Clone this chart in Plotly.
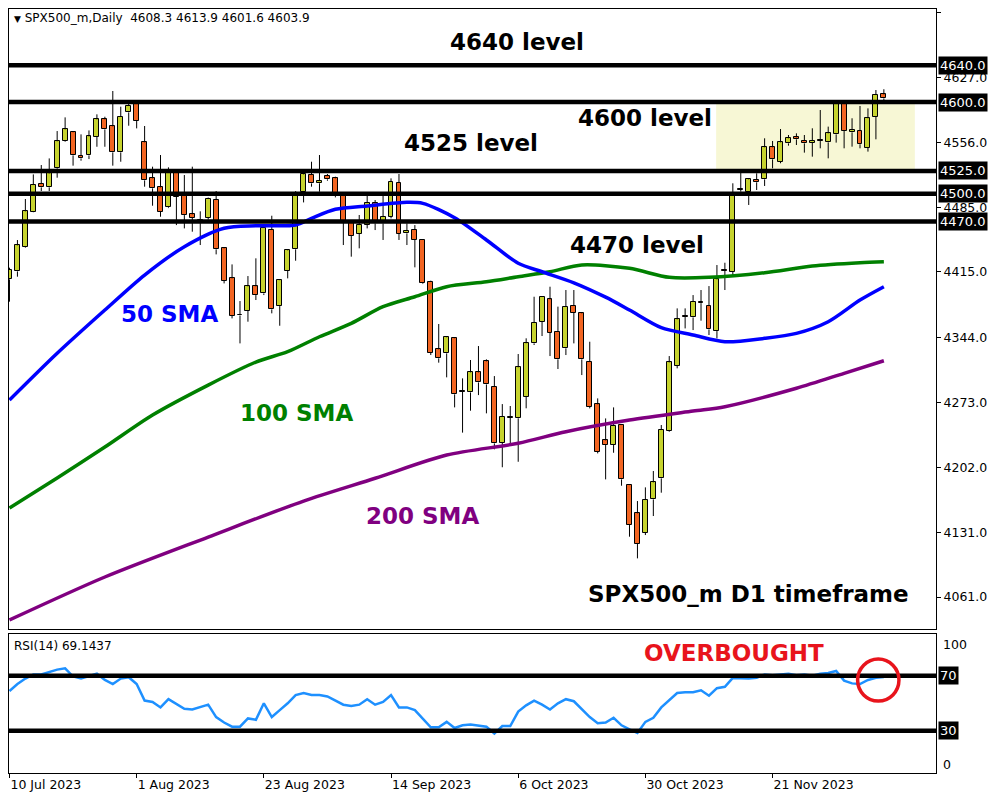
import plotly.graph_objects as go

# SPX500_m daily bars, bar 0 = 10 Jul 2023, last bar = current one
opens = [4406.9, 4415.6, 4442.1, 4480.6, 4510.7, 4507.1, 4527.8, 4557.9, 4567.0, 4541.2,
         4541.9, 4561.9, 4581.1, 4573.5, 4545.2, 4588.7, 4598.5, 4556.1, 4516.9, 4507.1,
         4485.4, 4523.4, 4500.5, 4477.7, 4472.0, 4474.0, 4493.3, 4440.6, 4408.0, 4368.1,
         4372.8, 4399.3, 4391.6, 4460.6, 4377.8, 4416.0, 4439.6, 4502.3, 4520.5, 4511.5,
         4519.4, 4516.9, 4497.6, 4468.6, 4456.3, 4466.1, 4490.4, 4467.9, 4475.1, 4512.2,
         4457.0, 4460.6, 4449.8, 4404.4, 4330.7, 4326.3, 4342.7, 4285.3, 4283.8, 4305.6,
         4317.6, 4290.0, 4228.9, 4256.2, 4255.6, 4279.1, 4337.2, 4360.8, 4385.1, 4349.9,
         4331.8, 4378.3, 4369.9, 4317.3, 4270.8, 4231.5, 4226.5, 4248.3, 4182.9, 4152.1,
         4131.0, 4167.3, 4190.2, 4242.1, 4312.9, 4367.0, 4365.5, 4381.5, 4377.8, 4350.6,
         4416.3, 4415.2, 4504.2, 4502.4, 4515.1, 4515.8, 4550.7, 4535.1, 4555.0, 4561.6,
         4557.9, 4555.8, 4558.0, 4556.1, 4564.8, 4598.6, 4567.0, 4568.8, 4550.3, 4584.1,
         4608.3]
highs = [4419.6, 4449.7, 4494.4, 4521.2, 4531.4, 4538.6, 4568.4, 4583.3, 4568.4, 4564.8,
         4569.1, 4586.6, 4584.0, 4612.0, 4594.9, 4598.5, 4600.5, 4573.9, 4529.6, 4542.3,
         4528.9, 4527.0, 4520.5, 4529.6, 4481.0, 4496.0, 4503.1, 4441.0, 4423.2, 4383.3,
         4410.5, 4429.8, 4466.0, 4476.2, 4406.0, 4439.0, 4503.0, 4525.9, 4535.0, 4542.3,
         4521.6, 4518.7, 4499.0, 4470.0, 4477.0, 4497.7, 4493.3, 4497.7, 4516.9, 4521.6,
         4467.9, 4466.0, 4450.0, 4405.5, 4358.3, 4345.2, 4343.0, 4299.1, 4319.1, 4334.3,
         4319.8, 4301.6, 4271.1, 4269.0, 4325.6, 4342.7, 4388.0, 4388.7, 4398.9, 4377.2,
         4395.3, 4395.3, 4370.6, 4339.0, 4277.3, 4255.5, 4267.5, 4249.0, 4183.5, 4165.5,
         4180.4, 4198.2, 4248.3, 4323.4, 4375.3, 4375.3, 4389.8, 4395.3, 4399.6, 4422.5,
         4425.0, 4511.5, 4523.1, 4516.9, 4522.4, 4560.5, 4557.6, 4570.6, 4564.1, 4565.9,
         4564.1, 4571.4, 4591.3, 4573.2, 4600.5, 4601.0, 4582.3, 4595.7, 4593.1, 4613.1,
         4613.9]
lows = [4382.6, 4409.8, 4441.4, 4480.0, 4503.1, 4503.1, 4517.6, 4556.8, 4530.7, 4536.1,
        4537.9, 4551.3, 4551.3, 4530.7, 4535.0, 4574.2, 4571.3, 4507.8, 4487.1, 4475.1,
        4484.5, 4466.0, 4462.4, 4458.8, 4444.3, 4472.0, 4434.1, 4402.5, 4364.4, 4337.2,
        4360.8, 4384.4, 4389.8, 4369.9, 4356.4, 4408.0, 4427.2, 4490.7, 4507.8, 4502.3,
        4514.3, 4496.2, 4444.3, 4431.6, 4440.7, 4462.4, 4460.6, 4449.8, 4473.3, 4449.8,
        4444.3, 4420.0, 4401.8, 4324.5, 4316.2, 4300.2, 4267.5, 4240.0, 4263.9, 4280.9,
        4261.0, 4221.8, 4202.3, 4226.5, 4208.3, 4266.5, 4335.4, 4345.2, 4323.4, 4309.3,
        4324.5, 4337.2, 4302.7, 4266.4, 4217.4, 4189.1, 4218.1, 4182.2, 4126.7, 4103.1,
        4128.5, 4149.2, 4174.6, 4241.0, 4310.0, 4353.5, 4351.7, 4361.9, 4346.3, 4342.6,
        4395.3, 4411.6, 4502.4, 4487.9, 4504.2, 4508.6, 4527.8, 4533.3, 4552.5, 4553.2,
        4544.9, 4540.5, 4549.6, 4538.7, 4555.8, 4549.6, 4551.4, 4549.6, 4546.0, 4559.4,
        4601.6]
closes = [4417.1, 4443.9, 4480.9, 4509.6, 4507.1, 4522.3, 4557.2, 4570.2, 4541.9, 4538.6,
          4562.6, 4581.1, 4570.2, 4545.2, 4584.0, 4596.0, 4579.3, 4514.7, 4506.0, 4480.6,
          4524.1, 4496.9, 4476.9, 4474.0, 4470.5, 4494.4, 4439.6, 4405.4, 4367.0, 4367.6,
          4399.3, 4389.8, 4463.1, 4374.2, 4405.8, 4438.5, 4498.7, 4521.2, 4511.4, 4514.0,
          4515.8, 4497.6, 4468.6, 4454.1, 4466.1, 4490.4, 4467.9, 4475.1, 4513.3, 4456.3,
          4459.9, 4449.8, 4402.6, 4327.1, 4320.9, 4343.8, 4281.7, 4284.5, 4305.6, 4294.7,
          4292.5, 4228.3, 4257.3, 4256.8, 4311.1, 4337.3, 4359.7, 4388.0, 4348.8, 4319.8,
          4377.2, 4370.6, 4319.8, 4268.3, 4219.2, 4226.5, 4247.2, 4189.1, 4139.4, 4118.7,
          4166.6, 4185.8, 4242.8, 4316.5, 4363.3, 4366.0, 4382.5, 4381.0, 4352.4, 4406.9,
          4416.0, 4498.7, 4504.5, 4515.8, 4512.6, 4550.7, 4537.6, 4556.1, 4560.5, 4559.4,
          4555.0, 4557.9, 4557.5, 4565.9, 4597.9, 4568.8, 4569.6, 4554.0, 4582.3, 4607.7,
          4603.9]

rsi14 = [59, 64, 68, 71, 71, 73, 74.5, 75.5, 69.5, 68,
         70, 71.5, 67, 64, 68, 69, 64, 52, 51, 47,
         53, 49.5, 46, 45.5, 47, 49, 40, 36, 33, 33,
         39, 38, 50, 40, 45, 50, 56, 57.5, 56, 56,
         55, 52, 49, 48, 49, 53, 49, 51, 56, 47,
         47, 45, 39, 32.5, 32.5, 36.5, 32, 34, 34.5, 34,
         33, 28, 33.5, 33.5, 44, 48.5, 52, 49, 45.5, 50,
         53, 51.5, 46, 40, 35.5, 36, 39.5, 34, 31, 28.5,
         36.5, 39.5, 47, 52.5, 57.5, 58, 58, 59.5, 55.5, 61,
         62, 68.5, 68, 68, 68.5, 71, 70.5, 71, 71.5, 70.5,
         71, 70, 71.5, 72, 73.5, 66.5, 64.5, 64, 67, 68.5, 69.1]
rsi_last = 69.1437

sma50_x = [0, 6, 12, 17, 22, 27, 31, 36, 38, 41, 45, 50, 52, 56, 60, 64, 67, 71, 75, 78,
           82, 86, 90, 95, 99, 103, 107, 110]
sma50 = [4275.5, 4326.4, 4373.5, 4411.6, 4442.4, 4462.5, 4465.3, 4466.1, 4473.4, 4483.2,
         4486.8, 4490.8, 4489.7, 4474.0, 4449.8, 4424.4, 4415.2, 4403.2, 4387.5, 4373.5,
         4354.3, 4346.3, 4339.0, 4342.7, 4348.1, 4360.8, 4384.4, 4398.9]
sma100_x = [0, 6, 12, 18, 25, 31, 35, 39, 43, 47, 51, 55, 60, 64, 68, 72, 78, 83, 88, 95,
            101, 107, 110]
sma100 = [4157.9, 4190.6, 4224.3, 4259.2, 4291.8, 4316.9, 4328.1, 4344.4, 4359.0, 4377.1,
          4388.0, 4398.9, 4404.3, 4409.8, 4415.2, 4422.5, 4418.9, 4409.1, 4409.1, 4414.1,
          4421.4, 4425.0, 4426.1]
sma200_x = [0, 12, 25, 37, 46, 55, 64, 70, 78, 86, 90, 99, 105, 110]
sma200 = [4036.0, 4082.8, 4126.3, 4165.5, 4190.3, 4215.6, 4228.4, 4241.0, 4253.7, 4263.5,
          4268.2, 4288.3, 4304.6, 4318.3]

levels = [4640, 4600, 4525, 4500, 4470]
rsi_levels = [70, 30]
price_ticks = [4698, 4627, 4556, 4485, 4415, 4344, 4273, 4202, 4131, 4061]
date_ticks = [0, 16, 32, 48, 64, 80, 96]
date_labels = ["10 Jul 2023", "1 Aug 2023", "23 Aug 2023", "14 Sep 2023",
               "6 Oct 2023", "30 Oct 2023", "21 Nov 2023"]

BULL = "#c6d32e"
BEAR = "#f26522"
FONT = "DejaVu Sans"

bars = list(range(len(opens)))

# wicks drawn in two pieces so they do not cross the bodies
wick_x, wick_y = [], []
for i, o, h, l, c in zip(bars, opens, highs, lows, closes):
    wick_x += [i, i, None, i, i, None]
    wick_y += [h, max(o, c), None, min(o, c), l, None]

body_base = [min(o, c) for o, c in zip(opens, closes)]
body_len = [max(abs(c - o), 0.8) for o, c in zip(opens, closes)]
body_col = [BULL if c >= o else BEAR for o, c in zip(opens, closes)]

fig = go.Figure()
fig.add_trace(go.Scatter(x=wick_x, y=wick_y, mode="lines",
                         line=dict(color="black", width=1), hoverinfo="skip"))
fig.add_trace(go.Bar(x=bars, y=body_len, base=body_base, width=0.62,
                     marker=dict(color=body_col, line=dict(color="black", width=1))))
for xs, ys, col in ((sma200_x, sma200, "#800080"), (sma100_x, sma100, "#008000"),
                    (sma50_x, sma50, "#0000ff")):
    fig.add_trace(go.Scatter(x=xs, y=ys, mode="lines",
                             line=dict(color=col, width=3.5, shape="spline", smoothing=0.8)))
fig.add_trace(go.Scatter(x=bars, y=rsi14, mode="lines", xaxis="x2", yaxis="y2",
                         line=dict(color="#1e90ff", width=2.5)))

axis_common = dict(showgrid=False, zeroline=False, showline=True, mirror=True,
                   linecolor="black", linewidth=1)
# the page puts the figure 8px in from the window corner, so it is drawn 992x792
fig.update_layout(
    width=992, height=792,
    margin=dict(l=1, r=64, t=1, b=27),
    paper_bgcolor="white", plot_bgcolor="white",
    showlegend=False,
    font=dict(family=FONT, size=12, color="black"),
    xaxis=dict(domain=[0, 1], range=[-0.06, 116.56], anchor="y",
               showticklabels=False, ticks="", **axis_common),
    yaxis=dict(domain=[0.1885, 1], range=[4026.2, 4701.3], side="right",
               tickvals=price_ticks, ticktext=[f"{v:.1f}" for v in price_ticks],
               ticks="outside", ticklen=4, tickcolor="black",
               tickfont=dict(size=12.5), **axis_common),
    xaxis2=dict(domain=[0, 1], matches="x", anchor="y2",
                tickvals=date_ticks, ticktext=date_labels,
                ticks="outside", ticklen=4, tickcolor="black",
                ticklabelposition="outside right", tickfont=dict(size=12.5), **axis_common),
    yaxis2=dict(domain=[0, 0.1819], range=[-0.7, 100.4], side="right",
                showticklabels=False, ticks="", **axis_common),
    bargap=0,
)

shapes = [dict(type="rect", xref="x", yref="y", x0=88.9, x1=113.9, y0=4525, y1=4600,
               fillcolor="#f7f7d5", line=dict(width=0), layer="below")]
for lvl in levels:
    shapes.append(dict(type="line", xref="x domain", yref="y", x0=0, x1=1, y0=lvl, y1=lvl,
                       line=dict(color="black", width=4.5), layer="above"))
for lvl in rsi_levels:
    shapes.append(dict(type="line", xref="x2 domain", yref="y2", x0=0, x1=1, y0=lvl, y1=lvl,
                       line=dict(color="black", width=4.5), layer="above"))
shapes.append(dict(type="circle", xref="x2", yref="y2", x0=106.7, x1=111.9, y0=51.6, y1=82.2,
                   line=dict(color="#e8141c", width=3.5), layer="above"))
fig.update_layout(shapes=shapes)

# price labels of the horizontal levels (black boxes on the right scale)
for lvl in levels:
    fig.add_annotation(x=1, xref="paper", xanchor="left", xshift=2, y=lvl, yref="y",
                       text=f"{lvl:.1f}", showarrow=False, bgcolor="black", borderpad=1,
                       font=dict(color="white", size=13))
for lvl in rsi_levels:
    fig.add_annotation(x=1, xref="paper", xanchor="left", xshift=2, y=lvl, yref="y2",
                       text=str(lvl), showarrow=False, bgcolor="black", borderpad=1,
                       font=dict(color="white", size=13))
fig.add_annotation(x=1, xref="paper", xanchor="left", xshift=5, y=1, yref="y2 domain",
                   yanchor="middle", yshift=-10, text="100", showarrow=False,
                   font=dict(size=12.5))
fig.add_annotation(x=1, xref="paper", xanchor="left", xshift=5, y=0, yref="y2 domain",
                   yanchor="middle", yshift=9, text="0", showarrow=False,
                   font=dict(size=12.5))

fig.add_annotation(x=0, xref="paper", xanchor="left", xshift=3, y=1, yref="paper",
                   yanchor="top", yshift=0, showarrow=False,
                   text="<span style='font-size:9px'>▼</span> SPX500_m,Daily  "
                        f"{opens[-1]} {highs[-1]} {lows[-1]} {closes[-1]}",
                   font=dict(size=12))
fig.add_annotation(x=0, xref="paper", xanchor="left", xshift=3, y=1, yref="y2 domain",
                   yanchor="top", yshift=-3, showarrow=False,
                   text=f"RSI(14) {rsi_last}", font=dict(size=12))

bold = dict(family=FONT, size=23, weight="bold")
notes = [
    ("4640 level", 63.9, 4665.3, "x", "y", "black"),
    ("4600 level", 80.0, 4582.6, "x", "y", "black"),
    ("4525 level", 58.0, 4555.4, "x", "y", "black"),
    ("4470 level", 79.0, 4444.3, "x", "y", "black"),
    ("50 SMA", 20.1, 4369.2, "x", "y", "#0000ff"),
    ("100 SMA", 36.1, 4261.4, "x", "y", "#008000"),
    ("200 SMA", 52.0, 4149.2, "x", "y", "#800080"),
    ("SPX500_m D1 timeframe", 93.0, 4064.3, "x", "y", "black"),
    ("OVERBOUGHT", 91.1, 86.5, "x2", "y2", "#e8141c"),
]
for text, x, y, xr, yr, col in notes:
    fig.add_annotation(x=x, y=y, xref=xr, yref=yr, text=text, showarrow=False,
                       font=dict(bold, color=col))

fig.write_html("out.html")
